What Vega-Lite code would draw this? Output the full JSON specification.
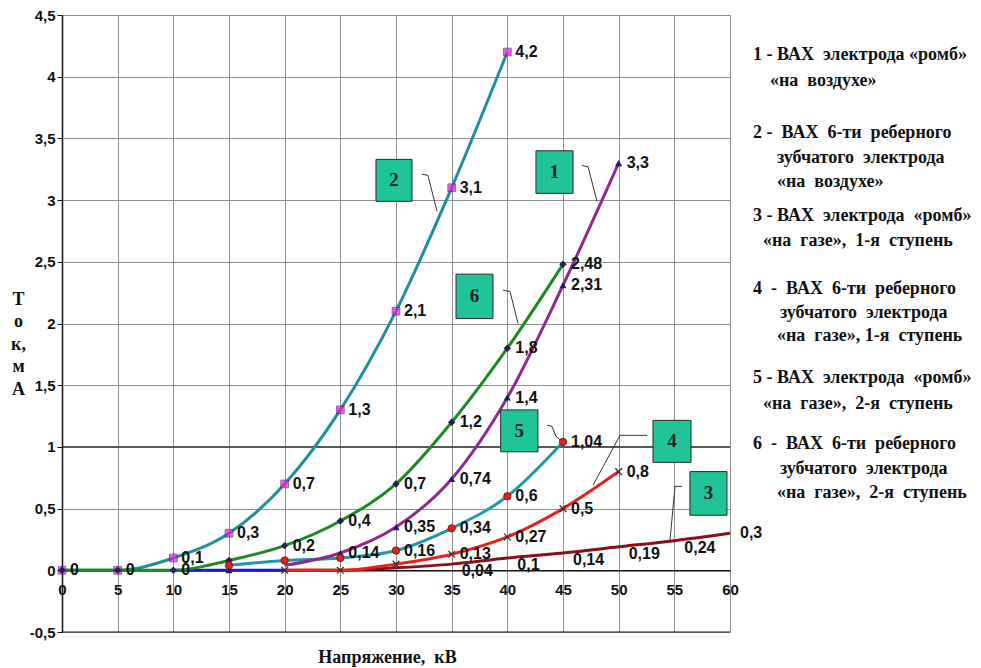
{
  "$schema": "https://vega.github.io/schema/vega-lite/v6.json",
  "width": 668,
  "height": 617,
  "autosize": {"type": "none"},
  "padding": {"left": 62, "top": 15, "right": 251, "bottom": 36},
  "background": "white",
  "config": {
    "view": {"stroke": null},
    "axis": {
      "labelFont": "Liberation Sans",
      "labelFontWeight": "bold",
      "labelFontSize": 15,
      "labelColor": "#111",
      "gridColor": "#8f8f8f",
      "gridWidth": 1,
      "gridOpacity": 1,
      "domainColor": "#111",
      "domainWidth": 1.5,
      "tickColor": "#111",
      "labelFlush": false,
      "labelOverlap": false,
      "titleFont": "Liberation Serif",
      "titleFontWeight": "bold",
      "titleFontSize": 18,
      "titleColor": "#111"
    }
  },
  "datasets": {
    "pts": [
      {"s": "b", "x": 10, "y": 0, "lab": ""},
      {"s": "b", "x": 15, "y": 0, "lab": ""},
      {"s": "b", "x": 20, "y": 0, "lab": ""},
      {"s": "3", "x": 20, "y": 0, "lab": ""},
      {"s": "3", "x": 25, "y": 0, "lab": ""},
      {"s": "3", "x": 30, "y": 0.02, "lab": ""},
      {"s": "3", "x": 35, "y": 0.05, "lab": "0,04"},
      {"s": "3", "x": 40, "y": 0.1, "lab": "0,1"},
      {"s": "3", "x": 45, "y": 0.14, "lab": "0,14"},
      {"s": "3", "x": 50, "y": 0.19, "lab": "0,19"},
      {"s": "3", "x": 55, "y": 0.24, "lab": "0,24"},
      {"s": "3", "x": 60, "y": 0.3, "lab": "0,3"},
      {"s": "4", "x": 20, "y": 0, "lab": ""},
      {"s": "4", "x": 25, "y": 0, "lab": ""},
      {"s": "4", "x": 30, "y": 0.05, "lab": ""},
      {"s": "4", "x": 35, "y": 0.13, "lab": "0,13"},
      {"s": "4", "x": 40, "y": 0.27, "lab": "0,27"},
      {"s": "4", "x": 45, "y": 0.5, "lab": "0,5"},
      {"s": "4", "x": 50, "y": 0.8, "lab": "0,8"},
      {"s": "5", "x": 15, "y": 0.04, "lab": ""},
      {"s": "5", "x": 20, "y": 0.08, "lab": ""},
      {"s": "5", "x": 25, "y": 0.1, "lab": ""},
      {"s": "5", "x": 30, "y": 0.16, "lab": "0,16"},
      {"s": "5", "x": 35, "y": 0.34, "lab": "0,34"},
      {"s": "5", "x": 40, "y": 0.6, "lab": "0,6"},
      {"s": "5", "x": 45, "y": 1.04, "lab": "1,04"},
      {"s": "1", "x": 20, "y": 0.04, "lab": ""},
      {"s": "1", "x": 25, "y": 0.14, "lab": "0,14"},
      {"s": "1", "x": 30, "y": 0.35, "lab": "0,35"},
      {"s": "1", "x": 35, "y": 0.74, "lab": "0,74"},
      {"s": "1", "x": 40, "y": 1.4, "lab": "1,4"},
      {"s": "1", "x": 45, "y": 2.31, "lab": "2,31"},
      {"s": "1", "x": 50, "y": 3.3, "lab": "3,3"},
      {"s": "2", "x": 0, "y": 0, "lab": ""},
      {"s": "2", "x": 5, "y": 0, "lab": ""},
      {"s": "2", "x": 10, "y": 0.1, "lab": "0,1"},
      {"s": "2", "x": 15, "y": 0.3, "lab": "0,3"},
      {"s": "2", "x": 20, "y": 0.7, "lab": "0,7"},
      {"s": "2", "x": 25, "y": 1.3, "lab": "1,3"},
      {"s": "2", "x": 30, "y": 2.1, "lab": "2,1"},
      {"s": "2", "x": 35, "y": 3.1, "lab": "3,1"},
      {"s": "2", "x": 40, "y": 4.2, "lab": "4,2"},
      {"s": "6", "x": 0, "y": 0, "lab": "0"},
      {"s": "6", "x": 5, "y": 0, "lab": "0"},
      {"s": "6", "x": 10, "y": 0, "lab": "0"},
      {"s": "6", "x": 15, "y": 0.08, "lab": ""},
      {"s": "6", "x": 20, "y": 0.2, "lab": "0,2"},
      {"s": "6", "x": 25, "y": 0.4, "lab": "0,4"},
      {"s": "6", "x": 30, "y": 0.7, "lab": "0,7"},
      {"s": "6", "x": 35, "y": 1.2, "lab": "1,2"},
      {"s": "6", "x": 40, "y": 1.8, "lab": "1,8"},
      {"s": "6", "x": 45, "y": 2.48, "lab": "2,48"}
    ],
    "hlines": [{"y": -0.5}, {"y": 1}],
    "boxes": [
      {"id": "2", "x1": 28.2, "x2": 31.44, "y1": 3.33, "y2": 2.99, "cx": 29.82, "cy": 3.16},
      {"id": "1", "x1": 42.57, "x2": 45.9, "y1": 3.4, "y2": 3.055, "cx": 44.24, "cy": 3.23},
      {"id": "6", "x1": 35.39, "x2": 38.71, "y1": 2.4, "y2": 2.04, "cx": 37.05, "cy": 2.22},
      {"id": "5", "x1": 39.4, "x2": 42.75, "y1": 1.3, "y2": 0.96, "cx": 41.08, "cy": 1.13},
      {"id": "4", "x1": 53.08, "x2": 56.5, "y1": 1.215, "y2": 0.875, "cx": 54.79, "cy": 1.045},
      {"id": "3", "x1": 56.4, "x2": 59.73, "y1": 0.8, "y2": 0.446, "cx": 58.07, "cy": 0.623}
    ],
    "leaders": [
      {"id": "2", "o": 1, "x": 32.34, "y": 3.21},
      {"id": "2", "o": 2, "x": 32.87, "y": 3.2},
      {"id": "2", "o": 3, "x": 33.68, "y": 2.91},
      {"id": "1", "o": 1, "x": 46.7, "y": 3.28},
      {"id": "1", "o": 2, "x": 47.25, "y": 3.27},
      {"id": "1", "o": 3, "x": 48.05, "y": 2.99},
      {"id": "6", "o": 1, "x": 39.61, "y": 2.27},
      {"id": "6", "o": 2, "x": 40.24, "y": 2.26},
      {"id": "6", "o": 3, "x": 40.96, "y": 2.0},
      {"id": "5", "o": 1, "x": 43.58, "y": 1.175},
      {"id": "5", "o": 2, "x": 44.0, "y": 1.167},
      {"id": "5", "o": 3, "x": 44.37, "y": 1.086},
      {"id": "5", "o": 4, "x": 44.82, "y": 1.05},
      {"id": "4", "o": 1, "x": 52.55, "y": 1.094},
      {"id": "4", "o": 2, "x": 50.12, "y": 1.094},
      {"id": "4", "o": 3, "x": 47.7, "y": 0.689},
      {"id": "3", "o": 1, "x": 55.69, "y": 0.68},
      {"id": "3", "o": 2, "x": 55.06, "y": 0.68},
      {"id": "3", "o": 3, "x": 54.6, "y": 0.235}
    ],
    "legend": [
      {"t": "1 - ВАХ\u00a0 электрода «ромб»", "x": 62.07, "y": 4.173},
      {"t": "«на\u00a0 воздухе»", "x": 63.59, "y": 3.963},
      {"t": "2 -\u00a0 ВАХ\u00a0 6-ти\u00a0 реберного", "x": 62.07, "y": 3.541},
      {"t": "зубчатого\u00a0 электрода", "x": 64.22, "y": 3.339},
      {"t": "«на\u00a0 воздухе»", "x": 64.22, "y": 3.144},
      {"t": "3 - ВАХ\u00a0 электрода\u00a0 «ромб»", "x": 62.07, "y": 2.869},
      {"t": "«на\u00a0 газе»,\u00a0 1-я\u00a0 ступень", "x": 62.96, "y": 2.666},
      {"t": "4\u00a0 -\u00a0 ВАХ\u00a0 6-ти\u00a0 реберного", "x": 62.07, "y": 2.277},
      {"t": "зубчатого\u00a0 электрода", "x": 64.49, "y": 2.083},
      {"t": "«на\u00a0 газе», 1-я\u00a0 ступень", "x": 64.22, "y": 1.896},
      {"t": "5 - ВАХ\u00a0 электрода\u00a0 «ромб»", "x": 62.07, "y": 1.556},
      {"t": "«на\u00a0 газе»,\u00a0 2-я\u00a0 ступень", "x": 62.96, "y": 1.345},
      {"t": "6\u00a0 -\u00a0 ВАХ\u00a0 6-ти\u00a0 реберного", "x": 62.07, "y": 1.021},
      {"t": "зубчатого\u00a0 электрода", "x": 64.49, "y": 0.818},
      {"t": "«на\u00a0 газе»,\u00a0 2-я\u00a0 ступень", "x": 64.22, "y": 0.624}
    ]
  },
  "layer": [
    {
      "data": {"name": "hlines"},
      "mark": {"type": "rule", "color": "#222", "strokeWidth": 1.2},
      "encoding": {
        "y": {
          "field": "y", "type": "quantitative",
          "scale": {"domain": [-0.5, 4.5], "nice": false, "zero": false},
          "axis": {
            "values": [-0.5, 0, 0.5, 1, 1.5, 2, 2.5, 3, 3.5, 4, 4.5],
            "labelExpr": "replace(toString(datum.value), '.', ',')",
            "grid": true,
            "tickSize": 5,
            "labelPadding": 2,
            "title": ["Т", "о", "к,", "м", "А"],
            "titleAngle": 0,
            "titleAlign": "center",
            "titleBaseline": "middle",
            "titleLineHeight": 22.5,
            "titleX": -44,
            "titleY": 284
          }
        },
        "x": {"datum": 0, "type": "quantitative"},
        "x2": {"datum": 60}
      }
    },
    {
      "data": {"name": "pts"},
      "mark": {"type": "line", "interpolate": "monotone", "strokeWidth": 3},
      "encoding": {
        "x": {
          "field": "x", "type": "quantitative",
          "scale": {"domain": [0, 60], "nice": false, "zero": false},
          "axis": {
            "values": [0, 5, 10, 15, 20, 25, 30, 35, 40, 45, 50, 55, 60],
            "labelExpr": "replace(toString(datum.value), '.', ',')",
            "grid": true,
            "ticks": false,
            "offset": -61.7,
            "labelPadding": 12,
            "title": "Напряжение,\u00a0 кВ",
            "titleX": 325,
            "titleY": 87,
            "titleBaseline": "middle"
          }
        },
        "y": {"field": "y", "type": "quantitative"},
        "color": {
          "field": "s", "type": "nominal", "legend": null,
          "scale": {
            "domain": ["b", "3", "4", "5", "1", "2", "6"],
            "range": ["#1a1ad6", "#8a0f1a", "#e8231f", "#1f9aa6", "#8e2a8c", "#1f8f99", "#1b8a22"]
          }
        }
      }
    },
    {
      "data": {"name": "leaders"},
      "mark": {"type": "line", "color": "#333", "strokeWidth": 1},
      "encoding": {
        "x": {"field": "x", "type": "quantitative"},
        "y": {"field": "y", "type": "quantitative"},
        "detail": {"field": "id"},
        "order": {"field": "o"}
      }
    },
    {
      "data": {"name": "boxes"},
      "mark": {"type": "rect", "fill": "#20c498", "stroke": "#2b2b2b", "strokeWidth": 1},
      "encoding": {
        "x": {"field": "x1", "type": "quantitative"},
        "x2": {"field": "x2"},
        "y": {"field": "y1", "type": "quantitative"},
        "y2": {"field": "y2"}
      }
    },
    {
      "data": {"name": "boxes"},
      "mark": {"type": "text", "font": "Liberation Serif", "fontWeight": "bold", "fontSize": 19, "color": "#222", "align": "center", "baseline": "middle"},
      "encoding": {
        "x": {"field": "cx", "type": "quantitative"},
        "y": {"field": "cy", "type": "quantitative"},
        "text": {"field": "id"}
      }
    },
    {
      "data": {"name": "pts"},
      "transform": [{"filter": "datum.s == '2'"}],
      "mark": {"type": "point", "shape": "square", "filled": true, "size": 60, "color": "#e020e0", "stroke": "#5a1060", "strokeWidth": 0.8},
      "encoding": {"x": {"field": "x", "type": "quantitative"}, "y": {"field": "y", "type": "quantitative"}}
    },
    {
      "data": {"name": "pts"},
      "transform": [{"filter": "datum.s == '6'"}],
      "mark": {"type": "point", "shape": "diamond", "filled": true, "size": 55, "color": "#2b1b5b", "opacity": 1},
      "encoding": {"x": {"field": "x", "type": "quantitative"}, "y": {"field": "y", "type": "quantitative"}}
    },
    {
      "data": {"name": "pts"},
      "transform": [{"filter": "(datum.s == '1' && datum.x > 20) || (datum.s == 'b' && datum.x == 15)"}],
      "mark": {"type": "point", "shape": "triangle-up", "filled": true, "size": 50, "color": "#1b1b70", "opacity": 1},
      "encoding": {"x": {"field": "x", "type": "quantitative"}, "y": {"field": "y", "type": "quantitative"}}
    },
    {
      "data": {"name": "pts"},
      "transform": [{"filter": "datum.s == '5'"}],
      "mark": {"type": "point", "shape": "circle", "filled": true, "size": 55, "color": "#e02020", "stroke": "#6a1010", "strokeWidth": 0.8, "opacity": 1},
      "encoding": {"x": {"field": "x", "type": "quantitative"}, "y": {"field": "y", "type": "quantitative"}}
    },
    {
      "data": {"name": "pts"},
      "transform": [{"filter": "datum.s == '4'"}],
      "mark": {"type": "point", "shape": "M-1,-1L1,1M-1,1L1,-1", "filled": false, "size": 45, "color": "#333", "strokeWidth": 1.3, "opacity": 1},
      "encoding": {"x": {"field": "x", "type": "quantitative"}, "y": {"field": "y", "type": "quantitative"}}
    },
    {
      "data": {"name": "pts"},
      "transform": [{"filter": "datum.lab != '' && datum.s != '3'"}],
      "mark": {"type": "text", "font": "Liberation Sans", "fontWeight": "bold", "fontSize": 16, "color": "#111", "align": "left", "baseline": "middle", "dx": 8},
      "encoding": {"x": {"field": "x", "type": "quantitative"}, "y": {"field": "y", "type": "quantitative"}, "text": {"field": "lab"}}
    },
    {
      "data": {"name": "pts"},
      "transform": [{"filter": "datum.lab != '' && datum.s == '3' && datum.x < 60"}],
      "mark": {"type": "text", "font": "Liberation Sans", "fontWeight": "bold", "fontSize": 16, "color": "#111", "align": "left", "baseline": "middle", "dx": 10, "dy": 7},
      "encoding": {"x": {"field": "x", "type": "quantitative"}, "y": {"field": "y", "type": "quantitative"}, "text": {"field": "lab"}}
    },
    {
      "data": {"name": "pts"},
      "transform": [{"filter": "datum.lab != '' && datum.s == '3' && datum.x == 60"}],
      "mark": {"type": "text", "font": "Liberation Sans", "fontWeight": "bold", "fontSize": 16, "color": "#111", "align": "left", "baseline": "middle", "dx": 10},
      "encoding": {"x": {"field": "x", "type": "quantitative"}, "y": {"field": "y", "type": "quantitative"}, "text": {"field": "lab"}}
    },
    {
      "data": {"name": "legend"},
      "mark": {"type": "text", "font": "Liberation Serif", "fontWeight": "bold", "fontSize": 18, "color": "#111", "align": "left", "baseline": "middle"},
      "encoding": {"x": {"field": "x", "type": "quantitative"}, "y": {"field": "y", "type": "quantitative"}, "text": {"field": "t"}}
    }
  ]
}
